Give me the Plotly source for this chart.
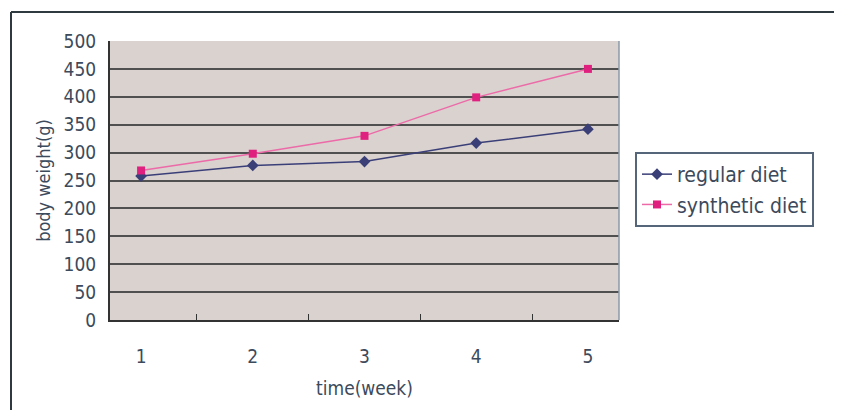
import plotly.graph_objects as go

weeks = ["1", "2", "3", "4", "5"]
regular_diet = [258, 277, 284, 317, 342]
synthetic_diet = [268, 298, 330, 399, 450]
y_ticks = [0, 50, 100, 150, 200, 250, 300, 350, 400, 450, 500]

txt = "#3c4a5c"
font = "DejaVu Sans Condensed, Liberation Sans, sans-serif"

W, H = 834, 402
L, T, PW, PH = 102, 33, 509, 279

fig = go.Figure()
fig.add_trace(go.Scatter(
    x=weeks, y=regular_diet, name="regular diet", mode="lines+markers",
    line=dict(color="#3a3f78", width=1.5),
    marker=dict(symbol="diamond", size=9, color="#3a3f78"),
))
fig.add_trace(go.Scatter(
    x=weeks, y=synthetic_diet, name="synthetic diet", mode="lines+markers",
    line=dict(color="#ec6aa8", width=1.5),
    marker=dict(symbol="square", size=8, color="#e0207f"),
))

fig.update_layout(
    width=W, height=H,
    margin=dict(l=L, r=W - L - PW, t=T, b=H - T - PH),
    paper_bgcolor="white",
    plot_bgcolor="#dad2cf",
    font=dict(family=font, size=19, color=txt),
    showlegend=True,
    legend=dict(
        x=(627 - L) / PW, y=(312 - 144) / PH, xanchor="left", yanchor="top",
        bgcolor="white", bordercolor="#55657a", borderwidth=2,
        font=dict(size=21, color=txt),
        tracegroupgap=0,
    ),
    xaxis=dict(
        type="category", tickson="boundaries", ticks="inside", ticklen=6,
        tickcolor="#333", showgrid=False, showline=True, linecolor="#333",
        linewidth=2, mirror=False, ticklabelstandoff=18,
        title=dict(text="time(week)", font=dict(size=19, color=txt), standoff=16),
        zeroline=False,
    ),
    yaxis=dict(
        range=[0, 500], tickvals=y_ticks, showgrid=True, gridcolor="#505050",
        gridwidth=1.5, showline=True, linecolor="#333", linewidth=2,
        ticks="", ticklabelstandoff=8, zeroline=False,
        title=dict(text="body weight(g)", font=dict(size=18, color=txt), standoff=8),
    ),
    shapes=[
        dict(type="line", xref="paper", yref="paper", x0=1.0, x1=1.0, y0=0, y1=1,
             line=dict(color="#8a9aa8", width=1.5)),
        dict(type="line", xref="paper", yref="paper",
             x0=(3 - L) / PW, x1=(W - L) / PW,
             y0=(T + PH - 4) / PH, y1=(T + PH - 4) / PH,
             line=dict(color="#2f3a40", width=2)),
        dict(type="line", xref="paper", yref="paper",
             x0=(3 - L) / PW, x1=(3 - L) / PW,
             y0=(T + PH - 4) / PH, y1=(T + PH - H - 10) / PH,
             line=dict(color="#2f3a40", width=2)),
    ],
)

fig.write_html("out.html")
